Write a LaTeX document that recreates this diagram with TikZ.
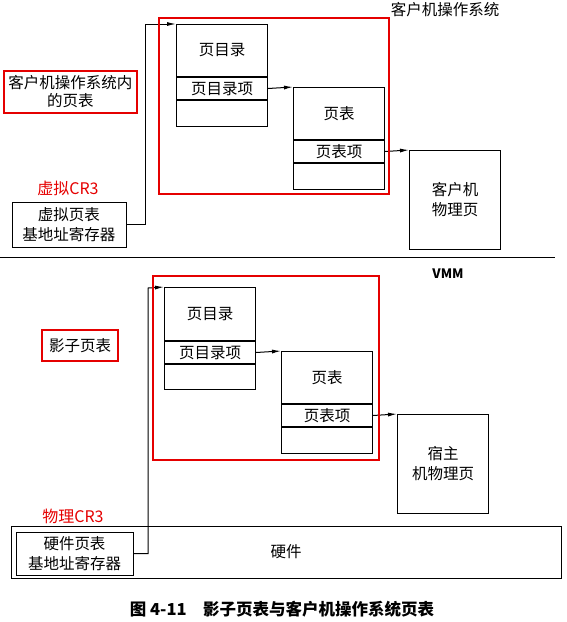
\documentclass[tikz,border=0pt]{standalone}
\usepackage{fontspec}
\setmainfont{Noto Sans CJK SC}
\usepackage{tikz}
\usetikzlibrary{arrows.meta, positioning, calc}
\tikzset{
    cell/.style={rectangle, draw=black, line width=1pt, minimum width=91pt, inner sep=0pt, text centered, font=\fontsize{15.5}{17}\selectfont},
    page/.style={rectangle, draw=black, line width=1pt, minimum width=91pt, minimum height=99pt, inner sep=0pt, align=center, font=\fontsize{15.5}{20}\selectfont},
    regbox/.style={rectangle, draw=black, line width=1pt, inner sep=0pt, align=center, font=\fontsize{15.5}{20}\selectfont},
    redbox/.style={rectangle, draw=red!90!black, line width=2.2pt, inner sep=0pt},
    redlabel/.style={text=red!90!black, font=\fontsize{16}{18}\selectfont},
    arrow/.style={line width=1pt, -{Latex[length=9pt,width=4pt]}}
}
\begin{document}
\begin{tikzpicture}[x=1pt, y=-1pt]
        \useasboundingbox (0,0) rectangle (566,622);

        % Guest OS (upper half)
        \node (guestos) at (445,10) [font=\fontsize{15.5}{17}\selectfont] {客户机操作系统};
        \node (gdir) [cell, minimum height=52pt, anchor=north west] at (176,24) {页目录};
        \node (gdirent) [cell, minimum height=22pt, anchor=north] at (gdir.south) {页目录项};
        \node (gdirnil) [cell, minimum height=26pt, anchor=north] at (gdirent.south) {};
        \node (gpt) [cell, minimum height=52pt, anchor=north west] at (293,87) {页表};
        \node (gptent) [cell, minimum height=22pt, anchor=north] at (gpt.south) {页表项};
        \node (gptnil) [cell, minimum height=26pt, anchor=north] at (gptent.south) {};
        \node (gpage) [page, anchor=north west] at (409,150) {客户机\\物理页};

        \node (vcr) [redlabel] at (68,188) {虚拟CR3};
        \node (vreg) [regbox, minimum width=114pt, minimum height=45pt] at (69,224.5) {虚拟页表\\基地址寄存器};
        \coordinate (vbend) at (145,24);

        \draw[arrow] (vreg.east) -| (vbend) -- (gdir.north west);
        \draw[arrow] (gdirent.east) -- (gpt.north west);
        \draw[arrow] (gptent.east) -- (gpage.north west);

        % separator
        \draw[line width=1pt] (0,257) -- (555,257);

        % VMM (lower half)
        \node (vmm) at (448,274) [font=\fontsize{13}{15}\selectfont\bfseries] {VMM};
        \node (hw) [regbox, minimum width=550pt, minimum height=52pt] at (286,552) {硬件};
        \node (sdir) [cell, minimum height=53pt, anchor=north west] at (164,287) {页目录};
        \node (sdirent) [cell, minimum height=22pt, anchor=north] at (sdir.south) {页目录项};
        \node (sdirnil) [cell, minimum height=25pt, anchor=north] at (sdirent.south) {};
        \node (spt) [cell, minimum height=52pt, anchor=north west] at (281,351) {页表};
        \node (sptent) [cell, minimum height=22pt, anchor=north] at (spt.south) {页表项};
        \node (sptnil) [cell, minimum height=26pt, anchor=north] at (sptent.south) {};
        \node (hpage) [page, anchor=north west] at (397,414) {宿主\\机物理页};

        \node (pcr) [redlabel] at (73,516) {物理CR3};
        \node (hreg) [regbox, minimum width=117pt, minimum height=43pt, fill=white] at (74.5,553.5) {硬件页表\\基地址寄存器};
        \coordinate (hbend) at (148,288);

        \draw[arrow] (hreg.east) -| (hbend) -- (sdir.north west);
        \draw[arrow] (sdirent.east) -- (spt.north west);
        \draw[arrow] (sptent.east) -- (hpage.north west);

        % red highlights
        \node (gframe) [redbox, minimum width=230pt, minimum height=176pt, anchor=north west] at (158,17) {};
        \node (gnote) [redbox, minimum width=133pt, minimum height=42pt, align=center, font=\fontsize{15.5}{18}\selectfont] at (70.5,92) {客户机操作系统内\\的页表};
        \node (sframe) [redbox, minimum width=226pt, minimum height=184pt, anchor=north west] at (152,275) {};
        \node (snote) [redbox, minimum width=76pt, minimum height=31pt, font=\fontsize{15.5}{17}\selectfont] at (80,345.5) {影子页表};

        % caption
        \node (caption) at (282,609) [font=\fontsize{16.5}{18}\selectfont\bfseries] {图 4-11\quad 影子页表与客户机操作系统页表};
\end{tikzpicture}
\end{document}
